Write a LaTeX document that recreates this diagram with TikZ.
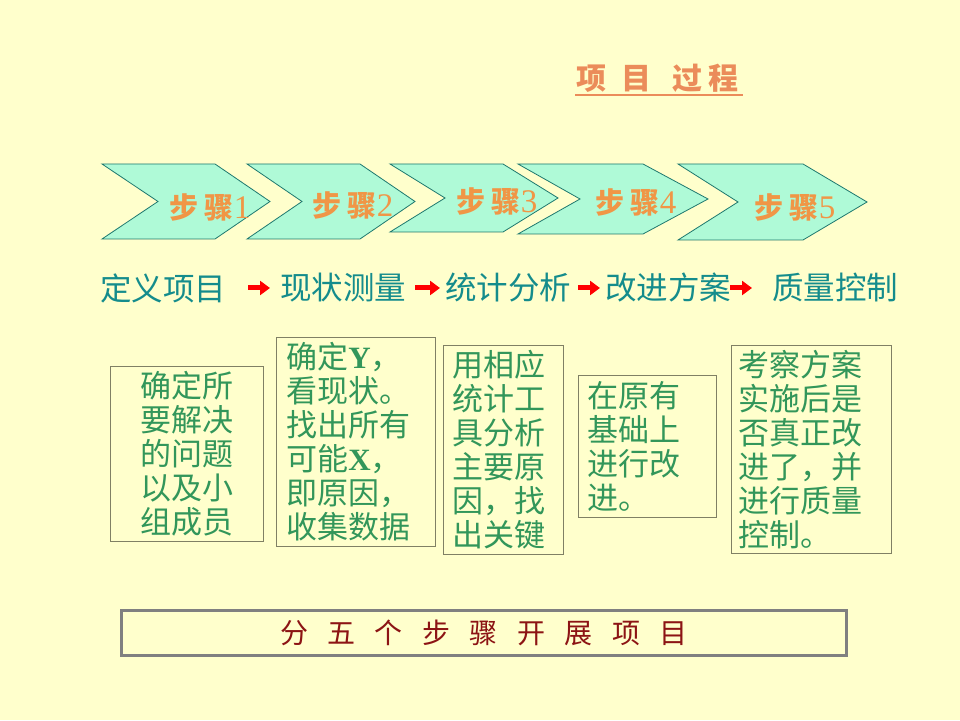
\documentclass[tikz,border=0pt]{standalone}
\usepackage{fontspec}
\setmainfont{Liberation Serif}
\newfontfamily\cjk{Noto Sans CJK SC}
\usetikzlibrary{arrows.meta}

\begin{document}
\begin{tikzpicture}[x=1pt,y=1pt,
  stepshape/.style={draw=stepDraw,line width=0.8pt,line join=miter,fill=stepFill},
  steplabel/.style={text=stepText,inner sep=0pt,font=\fontsize{29}{29}\selectfont},
  phrase/.style={text=phraseText,anchor=west,inner sep=0pt,font=\cjk\fontsize{31.5}{31.5}\selectfont},
  redarrow/.style={draw=arrowColor,line width=5pt,-{Triangle[length=10pt,width=14pt]}},
  notebox/.style={draw=boxDraw,line width=0.8pt,text=noteText,anchor=north west,font=\cjk\fontsize{31}{34}\selectfont},
]
\definecolor{fillColor}{RGB}{255,255,204}
\definecolor{stepFill}{RGB}{175,250,215}
\definecolor{stepDraw}{RGB}{30,120,110}
\definecolor{stepText}{RGB}{240,150,70}
\definecolor{titleColor}{RGB}{235,140,90}
\definecolor{phraseText}{RGB}{20,140,140}
\definecolor{arrowColor}{RGB}{255,0,0}
\definecolor{noteText}{RGB}{50,150,90}
\definecolor{boxDraw}{RGB}{128,128,100}
\definecolor{frameDraw}{RGB}{128,128,128}
\definecolor{bannerText}{RGB}{140,20,20}

\path[use as bounding box,fill=fillColor] (0,0) rectangle (960,720);

\node[text=titleColor,inner sep=0pt,font=\cjk\bfseries\fontsize{30}{30}\selectfont] (title) at (657.5,642) {项\hskip15pt 目\hskip21pt 过\hskip7pt 程};
\draw[titleColor,line width=2.5pt] (575,625) -- (743,625);

\path[stepshape] (102,556) -- (215,556) -- (270,518.5) -- (215,481) -- (102,481) -- (158,518.5) -- cycle;
\path[stepshape] (247,556) -- (360,556) -- (415,518.5) -- (360,481) -- (247,481) -- (302,518.5) -- cycle;
\path[stepshape] (390,556) -- (503,556) -- (558,522) -- (503,488) -- (390,488) -- (445,522) -- cycle;
\path[stepshape] (518,556) -- (643,556) -- (708,521) -- (643,486) -- (518,486) -- (580,521) -- cycle;
\path[stepshape] (678,556) -- (803,556) -- (867,518) -- (803,480) -- (678,480) -- (738,518) -- cycle;

\node[steplabel] (step1) at (210,513) {{\cjk\bfseries 步\hskip6pt 骤}{\fontsize{33}{33}\selectfont 1}};
\node[steplabel] (step2) at (353,514) {{\cjk\bfseries 步\hskip6pt 骤}{\fontsize{33}{33}\selectfont 2}};
\node[steplabel] (step3) at (497,518) {{\cjk\bfseries 步\hskip6pt 骤}{\fontsize{33}{33}\selectfont 3}};
\node[steplabel] (step4) at (636,517) {{\cjk\bfseries 步\hskip6pt 骤}{\fontsize{33}{33}\selectfont 4}};
\node[steplabel] (step5) at (795,513) {{\cjk\bfseries 步\hskip6pt 骤}{\fontsize{33}{33}\selectfont 5}};

\node[phrase] (define) at (100,432) {定义项目};
\node[phrase] (measure) at (280,432) {现状测量};
\node[phrase] (analyse) at (445,432) {统计分析};
\node[phrase] (improve) at (605,432) {改进方案};
\node[phrase] (control) at (772,432) {质量控制};

\draw[redarrow] ([xshift=22pt]define.east) -- ([xshift=-10pt]measure.west);
\draw[redarrow] ([xshift=9pt]measure.east) -- ([xshift=-5pt]analyse.west);
\draw[redarrow] ([xshift=7pt]analyse.east) -- ([xshift=-5pt]improve.west);
\draw[redarrow] ([xshift=-1pt]improve.east) -- ([xshift=-20pt]control.west);

\node[notebox,align=center,text width=137pt,inner xsep=8pt,minimum height=175pt] (goal) at (110,354) {确定所\\要解决\\的问题\\以及小\\组成员};

\node[notebox,align=left,text width=139pt,inner xsep=10pt,minimum height=209pt] (cause) at (276,383) {确定{\rmfamily\bfseries Y}，\\看现状。\\找出所有\\可能{\rmfamily\bfseries X}，\\即原因，\\收集数据};

\node[notebox,align=left,text width=102pt,inner xsep=9pt,minimum height=209pt] (tool) at (443,375) {用相应\\统计工\\具分析\\主要原\\因，找\\出关键};

\node[notebox,align=left,text width=120pt,inner xsep=9pt,minimum height=142pt] (base) at (578,345) {在原有\\基础上\\进行改\\进。};

\node[notebox,align=left,text width=146pt,inner xsep=7pt,minimum height=208pt] (check) at (731,375) {考察方案\\实施后是\\否真正改\\进了，并\\进行质量\\控制。};

\node[draw=frameDraw,line width=3pt,minimum width=725pt,minimum height=45pt,inner sep=0pt,text=bannerText,font=\cjk\fontsize{28}{28}\selectfont] (banner) at (484,87) {分\hskip19.5pt 五\hskip19.5pt 个\hskip19.5pt 步\hskip19.5pt 骤\hskip19.5pt 开\hskip19.5pt 展\hskip19.5pt 项\hskip19.5pt 目};
\end{tikzpicture}
\end{document}
